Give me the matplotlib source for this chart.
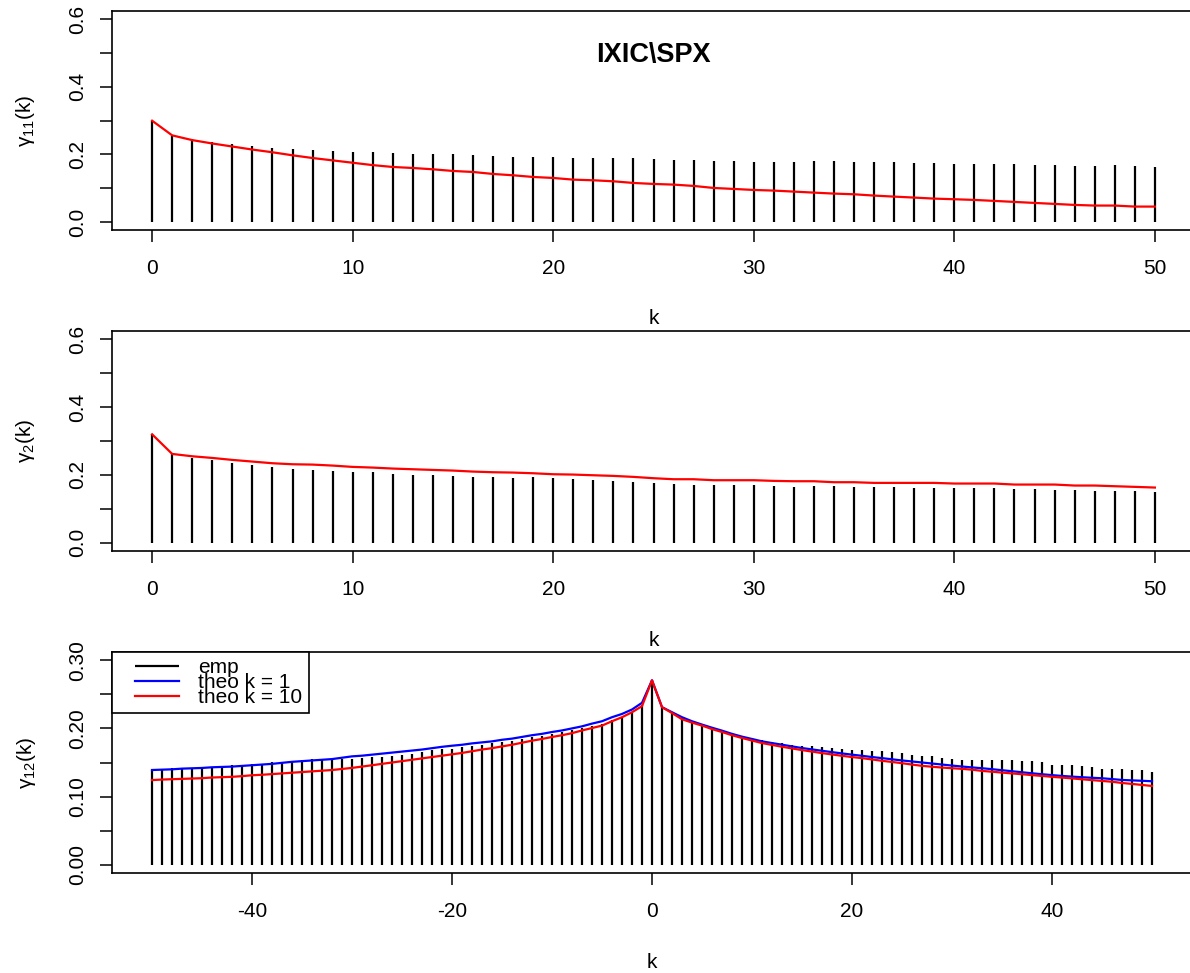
import matplotlib
matplotlib.use("Agg")
import matplotlib.pyplot as plt
from matplotlib.legend_handler import HandlerLine2D, HandlerLineCollection
from matplotlib.collections import LineCollection
from matplotlib.lines import Line2D

plt.rcParams['font.family'] = ['Liberation Sans', 'DejaVu Sans']
plt.rcParams['mathtext.fontset'] = 'custom'
plt.rcParams['mathtext.rm'] = 'Liberation Sans'
plt.rcParams['mathtext.default'] = 'regular'
plt.rcParams['axes.unicode_minus'] = False

TITLE = "IXIC\\SPX"

lags = list(range(0, 51))
lags12 = list(range(-50, 51))

g11_emp = [0.2994, 0.2551, 0.2452, 0.2354, 0.2304, 0.2255, 0.2196, 0.2147, 0.2117, 0.2088,
           0.2078, 0.2058, 0.2039, 0.2009, 0.2009, 0.2009, 0.1979, 0.1960, 0.1930, 0.1920,
           0.1920, 0.1901, 0.1901, 0.1881, 0.1881, 0.1851, 0.1822, 0.1822, 0.1792, 0.1792,
           0.1772, 0.1772, 0.1772, 0.1792, 0.1792, 0.1772, 0.1772, 0.1772, 0.1743, 0.1743,
           0.1723, 0.1723, 0.1723, 0.1723, 0.1684, 0.1684, 0.1664, 0.1664, 0.1684, 0.1664,
           0.1635]
g11_theo = [0.2994, 0.2560, 0.2420, 0.2320, 0.2230, 0.2140, 0.2060, 0.1970, 0.1890, 0.1820,
            0.1750, 0.1680, 0.1625, 0.1595, 0.1556, 0.1507, 0.1477, 0.1418, 0.1379, 0.1329,
            0.1300, 0.1250, 0.1231, 0.1201, 0.1152, 0.1123, 0.1103, 0.1064, 0.1004, 0.0975,
            0.0945, 0.0926, 0.0896, 0.0866, 0.0837, 0.0817, 0.0778, 0.0748, 0.0719, 0.0689,
            0.0670, 0.0650, 0.0621, 0.0591, 0.0561, 0.0532, 0.0502, 0.0483, 0.0483, 0.0453,
            0.0453]

g2_emp = [0.3197, 0.2619, 0.2501, 0.2432, 0.2364, 0.2295, 0.2226, 0.2178, 0.2148, 0.2119,
          0.2090, 0.2090, 0.2031, 0.2011, 0.2011, 0.1982, 0.1953, 0.1933, 0.1904, 0.1933,
          0.1913, 0.1874, 0.1845, 0.1815, 0.1795, 0.1766, 0.1737, 0.1717, 0.1717, 0.1717,
          0.1708, 0.1678, 0.1649, 0.1678, 0.1678, 0.1658, 0.1658, 0.1658, 0.1629, 0.1629,
          0.1629, 0.1610, 0.1610, 0.1580, 0.1580, 0.1551, 0.1551, 0.1521, 0.1521, 0.1521,
          0.1492]
g2_theo = [0.3197, 0.2619, 0.2550, 0.2501, 0.2443, 0.2394, 0.2345, 0.2315, 0.2305, 0.2276,
           0.2237, 0.2217, 0.2188, 0.2168, 0.2148, 0.2129, 0.2099, 0.2080, 0.2070, 0.2050,
           0.2021, 0.2011, 0.1991, 0.1972, 0.1943, 0.1904, 0.1874, 0.1874, 0.1845, 0.1845,
           0.1845, 0.1825, 0.1815, 0.1815, 0.1786, 0.1786, 0.1766, 0.1766, 0.1766, 0.1766,
           0.1747, 0.1747, 0.1747, 0.1717, 0.1717, 0.1717, 0.1688, 0.1688, 0.1668, 0.1649,
           0.1629]

g12_emp = [0.1387, 0.1407, 0.1426, 0.1426, 0.1426, 0.1426, 0.1436, 0.1451, 0.1461, 0.1461,
           0.1475, 0.1485, 0.1510, 0.1510, 0.1519, 0.1534, 0.1544, 0.1544, 0.1544, 0.1554,
           0.1554, 0.1569, 0.1579, 0.1584, 0.1593, 0.1603, 0.1628, 0.1653, 0.1687, 0.1697,
           0.1702, 0.1720, 0.1740, 0.1760, 0.1780, 0.1800, 0.1820, 0.1845, 0.1870, 0.1890,
           0.1920, 0.1945, 0.1970, 0.2000, 0.2035, 0.2070, 0.2120, 0.2170, 0.2245, 0.2350,
           0.2705,
           0.2316, 0.2240, 0.2170, 0.2110, 0.2060, 0.2015, 0.1970, 0.1930, 0.1895, 0.1860,
           0.1830, 0.1800, 0.1780, 0.1760, 0.1746, 0.1740, 0.1730, 0.1715, 0.1700, 0.1687,
           0.1680, 0.1672, 0.1665, 0.1655, 0.1633, 0.1613, 0.1600, 0.1593, 0.1570, 0.1555,
           0.1540, 0.1530, 0.1534, 0.1539, 0.1539, 0.1530, 0.1525, 0.1515, 0.1510, 0.1466,
           0.1460, 0.1461, 0.1451, 0.1441, 0.1407, 0.1400, 0.1407, 0.1397, 0.1392, 0.1367]
g12_theo1 = [0.1390, 0.1395, 0.1400, 0.1410, 0.1415, 0.1420, 0.1430, 0.1435, 0.1440, 0.1450,
             0.1460, 0.1470, 0.1480, 0.1495, 0.1510, 0.1520, 0.1530, 0.1540, 0.1550, 0.1570,
             0.1590, 0.1600, 0.1615, 0.1630, 0.1645, 0.1660, 0.1675, 0.1690, 0.1710, 0.1730,
             0.1746, 0.1760, 0.1780, 0.1795, 0.1810, 0.1833, 0.1850, 0.1875, 0.1900, 0.1920,
             0.1947, 0.1970, 0.2000, 0.2030, 0.2070, 0.2105, 0.2164, 0.2212, 0.2277, 0.2375,
             0.2705,
             0.2311, 0.2237, 0.2164, 0.2105, 0.2056, 0.2010, 0.1967, 0.1920, 0.1879, 0.1845,
             0.1810, 0.1785, 0.1761, 0.1736, 0.1712, 0.1692, 0.1672, 0.1652, 0.1633, 0.1615,
             0.1598, 0.1580, 0.1564, 0.1547, 0.1530, 0.1515, 0.1500, 0.1485, 0.1470, 0.1455,
             0.1441, 0.1428, 0.1416, 0.1402, 0.1387, 0.1372, 0.1357, 0.1342, 0.1328, 0.1315,
             0.1303, 0.1293, 0.1284, 0.1276, 0.1269, 0.1257, 0.1244, 0.1238, 0.1232, 0.1225]
g12_theo10 = [0.1242, 0.1250, 0.1255, 0.1260, 0.1265, 0.1270, 0.1280, 0.1285, 0.1290, 0.1300,
              0.1313, 0.1320, 0.1330, 0.1340, 0.1350, 0.1360, 0.1370, 0.1380, 0.1390, 0.1405,
              0.1421, 0.1440, 0.1460, 0.1480, 0.1500, 0.1520, 0.1540, 0.1560, 0.1580, 0.1600,
              0.1620, 0.1640, 0.1665, 0.1690, 0.1710, 0.1736, 0.1760, 0.1790, 0.1820, 0.1845,
              0.1874, 0.1900, 0.1930, 0.1970, 0.2005, 0.2041, 0.2105, 0.2164, 0.2237, 0.2326,
              0.2705,
              0.2311, 0.2225, 0.2134, 0.2085, 0.2041, 0.1990, 0.1947, 0.1900, 0.1859, 0.1822,
              0.1785, 0.1758, 0.1731, 0.1706, 0.1682, 0.1660, 0.1638, 0.1618, 0.1598, 0.1580,
              0.1564, 0.1545, 0.1525, 0.1508, 0.1490, 0.1470, 0.1451, 0.1438, 0.1426, 0.1416,
              0.1407, 0.1395, 0.1377, 0.1365, 0.1352, 0.1340, 0.1328, 0.1315, 0.1303, 0.1290,
              0.1279, 0.1267, 0.1254, 0.1242, 0.1230, 0.1218, 0.1200, 0.1186, 0.1171, 0.1156]

FS = 15
W, H = 1190, 973


def panel(top, bottom, left=112, right=1195):
    return fig.add_axes([left / W, 1 - bottom / H, (right - left) / W, (bottom - top) / H])


def style(ax, yticks, ylabels, xticks, ylab):
    for s in ax.spines.values():
        s.set_linewidth(1.2)
    ax.set_yticks(yticks)
    ax.set_yticklabels(ylabels)
    ax.set_xticks(xticks)
    ax.set_xticklabels([str(t) for t in xticks])
    ax.tick_params(axis='both', direction='out', length=8.6, width=1.1, labelsize=FS)
    ax.tick_params(axis='x', pad=12)
    ax.tick_params(axis='y', pad=9.5, labelrotation=90)
    for lab in ax.get_yticklabels():
        lab.set_va('center')
    ax.set_xlabel("k", fontsize=FS)
    ax.xaxis.set_label_coords(0.5, -0.405)
    ax.xaxis.label.set_va('center')
    ax.set_ylabel(ylab, fontsize=FS)
    ax.yaxis.set_label_coords(-0.0795, 0.5)
    ax.yaxis.label.set_va('center')


fig = plt.figure(figsize=(W / 100, H / 100), dpi=100)

# gamma_11
ax1 = panel(11, 230)
ax1.vlines(lags, 0, g11_emp, color='black', lw=1.6)
ax1.plot(lags, g11_theo, color='red', lw=1.6)
ax1.set_xlim(-2, 52)
ax1.set_ylim(-0.024, 0.624)
style(ax1, [0, 0.1, 0.2, 0.3, 0.4, 0.5, 0.6], ['0.0', '', '0.2', '', '0.4', '', '0.6'],
      [0, 10, 20, 30, 40, 50], r'$\gamma_{11}$(k)')
ax1.text(0.5, 0.80, TITLE, transform=ax1.transAxes, ha='center', va='center',
         fontsize=19.5, fontweight='bold')

# gamma_2
ax2 = panel(331, 551)
ax2.vlines(lags, 0, g2_emp, color='black', lw=1.6)
ax2.plot(lags, g2_theo, color='red', lw=1.6)
ax2.set_xlim(-2, 52)
ax2.set_ylim(-0.024, 0.624)
style(ax2, [0, 0.1, 0.2, 0.3, 0.4, 0.5, 0.6], ['0.0', '', '0.2', '', '0.4', '', '0.6'],
      [0, 10, 20, 30, 40, 50], r'$\gamma_{2}$(k)')

# gamma_12
ax3 = panel(652, 873, right=1192)
ax3.vlines(lags12, 0, g12_emp, color='black', lw=1.6, label='emp')
ax3.plot(lags12, g12_theo1, color='blue', lw=1.6, label='theo k = 1')
ax3.plot(lags12, g12_theo10, color='red', lw=1.6, label='theo k = 10')
ax3.set_xlim(-54, 54)
ax3.set_ylim(-0.012, 0.312)
style(ax3, [0, 0.05, 0.1, 0.15, 0.2, 0.25, 0.3], ['0.00', '', '0.10', '', '0.20', '', '0.30'],
      [-40, -20, 0, 20, 40], r'$\gamma_{12}$(k)')

h, l = ax3.get_legend_handles_labels()
leg = ax3.legend(h, l, loc='upper left', bbox_to_anchor=(0, 1), borderaxespad=0,
                 fontsize=FS, frameon=True, fancybox=False, framealpha=1,
                 edgecolor='black', borderpad=0.3, handlelength=2.9,
                 handletextpad=0.95, labelspacing=-0.2,
                 handler_map={Line2D: HandlerLine2D(xpad=0.82),
                              LineCollection: HandlerLineCollection(xpad=0.82)})
leg.get_frame().set_linewidth(1.2)

fig.savefig("out.png", dpi=100)
